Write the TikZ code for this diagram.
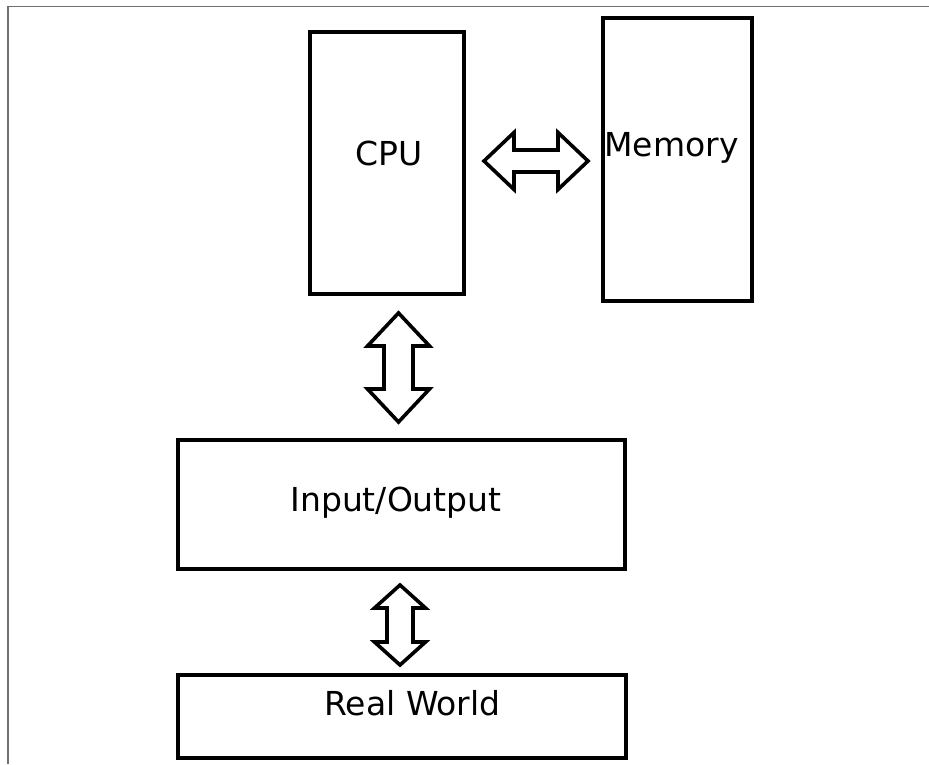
\documentclass[tikz,border=0pt]{standalone}
\usepackage{fontspec}
\setmainfont{DejaVu Sans}
\usetikzlibrary{calc}

\definecolor{framegray}{HTML}{707070}

\tikzset{
  box/.style={draw,line width=2pt,inner sep=0pt},
  txt/.style={anchor=base,inner sep=0pt,font=\fontsize{16.5}{20}\selectfont},
  fatarrow/.style={draw,line width=1.8pt,fill=white,line join=miter},
}

% block arrows: #1,#2 tips, #3 head half width, #4 head length, #5 shaft half width
\newcommand{\harrow}[5]{%
  \draw[fatarrow] (#1) -- ++(#4,#3) -- ++(0,-#3+#5) -- ($(#2)+(-#4,#5)$) -- ++(0,#3-#5)
    -- (#2) -- ++(-#4,-#3) -- ++(0,#3-#5) -- ($(#1)+(#4,-#5)$) -- ++(0,-#3+#5) -- cycle;}
\newcommand{\varrow}[5]{%
  \draw[fatarrow] (#1) -- ++(#3,#4) -- ++(-#3+#5,0) -- ($(#2)+(#5,-#4)$) -- ++(#3-#5,0)
    -- (#2) -- ++(-#3,-#4) -- ++(#3-#5,0) -- ($(#1)+(-#5,#4)$) -- ++(-#3+#5,0) -- cycle;}

\begin{document}
\begin{tikzpicture}[x=0.5pt,y=-0.5pt]
  \useasboundingbox (0,0) rectangle (929,764);
  \draw[framegray,line width=0.75pt] (8,764) -- (8,6.5) -- (929,6.5);

  % the units
  \node[box,minimum width=77pt,minimum height=131pt] (cpu) at (387,163) {};
  \node[box,minimum width=74.5pt,minimum height=141.5pt] (mem) at (677.5,159.5) {};
  \node[box,minimum width=223.5pt,minimum height=64.5pt] (io) at (401.5,504.5) {};
  \node[box,minimum width=224pt,minimum height=41.5pt] (world) at (402,716) {};

  \node[txt] (cpulbl) at (389.5,166) {CPU};
  \node[txt] (memlbl) at (671.5,157) {Memory};
  \node[txt] (iolbl) at (396,511) {Input/Output};
  \node[txt] (worldlbl) at (412.5,715) {Real World};

  % buses
  \coordinate (cm1) at ($(cpu.east)+(18,-2)$);
  \coordinate (cm2) at ($(mem.west)+(-13,1.5)$);
  \harrow{cm1}{cm2}{28.5}{30}{11}

  \coordinate (ci1) at ($(cpu.south)+(11.5,17)$);
  \coordinate (ci2) at ($(io.north)+(-3,-16)$);
  \varrow{ci1}{ci2}{31}{33}{14.5}

  \coordinate (iw1) at ($(io.south)+(-1.5,14)$);
  \coordinate (iw2) at ($(world.north)+(-2,-7.5)$);
  \varrow{iw1}{iw2}{25.5}{23}{13}
\end{tikzpicture}
\end{document}
